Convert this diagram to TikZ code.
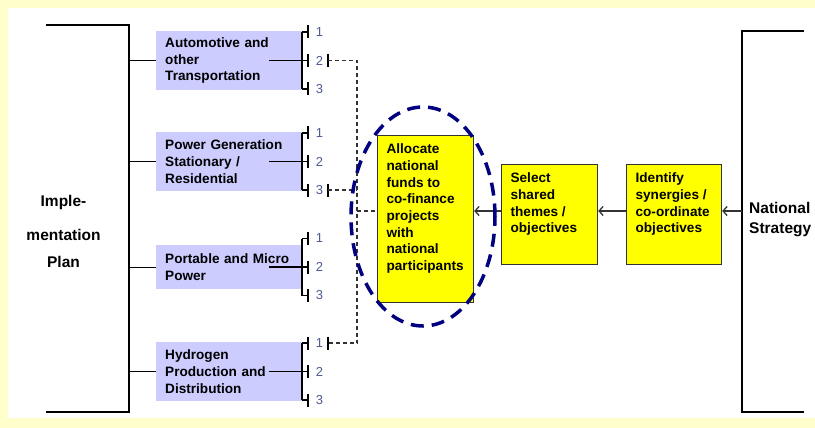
\documentclass[tikz,border=0pt]{standalone}
\usepackage{fontspec}
\setmainfont{Liberation Sans}
\usetikzlibrary{arrows.meta,shapes.geometric}
\definecolor{bgyellow}{HTML}{FFFFCC}
\definecolor{lav}{HTML}{CCCCFF}
\definecolor{yfill}{HTML}{FFFF00}
\definecolor{navyc}{HTML}{000080}
\definecolor{numc}{HTML}{4F5A93}
\definecolor{linec}{HTML}{333333}
\newcommand\ytext[3]{\parbox[c][#1][t]{#2}{\raggedright\vspace*{6.5pt}\strut#3}}
\newcommand\mybracket[2]{%
  \draw[conn] (302,#2-28.5) -- (302,#2+28.5);
  \foreach \o/\n in {-28.5/1,0/2,28.5/3}{
    \draw[conn] (302,#2+\o) -- (308,#2+\o) (308,#2+\o-6.5) -- (308,#2+\o+6.5);
    \node[num] (#1n\n) at (319.5,#2+\o) {\n};
  }
  \draw[conn] (269,#2) -- (308,#2);
}
\begin{document}
\begin{tikzpicture}[x=1pt,y=-1pt,
  conn/.style={draw=black, line width=1.3pt},
  thick bracket/.style={draw=black, line width=2pt},
  dline/.style={draw=linec, line width=1.2pt, dash pattern=on 4pt off 3pt},
  arr/.style={draw=linec, line width=1.3pt, -{Straight Barb[length=4pt,width=9pt]}},
  num/.style={text=numc, font=\fontsize{13}{15}\selectfont, inner sep=0pt},
  lbox/.style={fill=lav, inner xsep=9pt, inner ysep=0pt, text width=128pt, align=left, anchor=north west,
    font=\bfseries\fontsize{13.6}{16.7}\selectfont},
  ybox/.style={fill=yfill, draw=linec, line width=1.2pt, inner xsep=9pt, inner ysep=0pt, anchor=north west,
    font=\bfseries\fontsize{13.6}{16.7}\selectfont},
  bigtext/.style={font=\bfseries\fontsize{15.5}{19}\selectfont, inner sep=0pt},
]
\useasboundingbox (0,0) rectangle (815,428);
\fill[bgyellow] (0,0) rectangle (815,428);
\fill[white] (8,8) rectangle (815,418);

% left bracket
\coordinate (LT) at (46,25);
\coordinate (LTc) at (129,25);
\coordinate (LBc) at (129,412);
\coordinate (LB) at (46,412);
\draw[thick bracket] (LT) -- (LTc) -- (LBc) -- (LB);
\node[bigtext, anchor=base] (imp1) at (63.5,206) {Imple-};
\node[bigtext, anchor=base] (imp2) at (63.5,240) {mentation};
\node[bigtext, anchor=base] (imp3) at (63.5,267) {Plan};

% lavender boxes
\node[lbox, minimum height=59pt] (b1) at (156,31) {Automotive and\\other\\Transportation};
\node[lbox, minimum height=59pt] (b2) at (156,132) {Power Generation\\Stationary /\\Residential};
\node[lbox, minimum height=44pt] (b3) at (156,245) {Portable and Micro\\Power};
\node[lbox, minimum height=59pt] (b4) at (156,342) {Hydrogen\\Production and\\Distribution};

\foreach \b in {b1,b2,b3,b4}{
  \draw[conn] (LTc |- \b.west) -- (\b.west);
}

\mybracket{b1}{60.5}
\mybracket{b2}{161.5}
\mybracket{b3}{267}
\mybracket{b4}{371.5}

% yellow boxes
\node[ybox] (alloc) at (377,135) {\ytext{167pt}{78pt}{Allocate\\national\\funds to\\co-finance\\projects\\with\\national\\participants}};
\node[ybox] (sel) at (501,164) {\ytext{100pt}{78pt}{Select\\shared\\themes /\\objectives}};
\node[ybox] (ident) at (626,164) {\ytext{100pt}{77pt}{Identify\\synergies /\\co-ordinate\\objectives}};

% dashed links
\coordinate (t1) at (328,60.5);
\coordinate (t2) at (328,190);
\coordinate (t3) at (328,343);
\coordinate (dv1) at (357,60.5);
\coordinate (dv2) at (357,343);
\coordinate (dj) at (357,211);
\foreach \t in {t1,t2,t3}{
  \draw[conn] ([yshift=6.5pt]\t) -- ([yshift=-6.5pt]\t);
}
\draw[dline] (t1) -- (dv1) -- (dv2) -- (t3);
\draw[dline] (t2) -- (t2 -| dv1);
\draw[dline] (dj) -- (dj -| alloc.west);

% right bracket
\coordinate (RT) at (804,31);
\coordinate (RTc) at (742,31);
\coordinate (RBc) at (742,412);
\coordinate (RB) at (804,412);
\draw[draw=black, line width=1.5pt] (RT) -- (RTc) -- (RBc) -- (RB);
\coordinate (ns) at (742,211);
\node[bigtext, anchor=base west] (nat1) at (749,213.5) {National};
\node[bigtext, anchor=base west] (nat2) at (749,233.5) {Strategy};

% arrows
\draw[arr] (ns) -- (ns -| ident.east);
\draw[arr] (ns -| ident.west) -- (ns -| sel.east);
\draw[arr] (ns -| sel.west) -- (ns -| alloc.east);

% ellipse
\node[draw=navyc, line width=3.5pt, dash pattern=on 13pt off 8pt, ellipse, minimum width=144pt, minimum height=219pt, inner sep=0pt] (ell) at (423,216.5) {};
\end{tikzpicture}
\end{document}
